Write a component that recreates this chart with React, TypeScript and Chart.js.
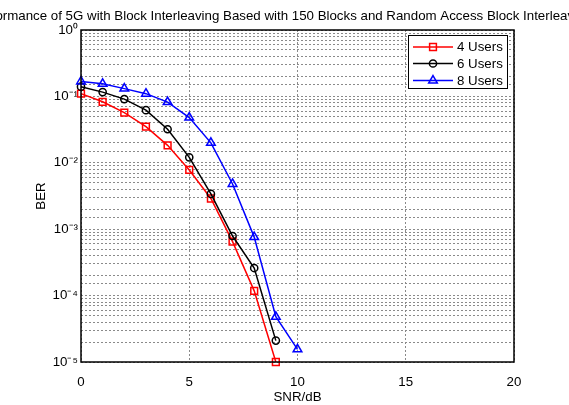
import React, { useEffect, useRef } from 'react';
import { Chart, registerables } from 'chart.js';

Chart.register(...registerables);

const TITLE = 'Performance of 5G with Block Interleaving Based with 150 Blocks and Random Access Block Interleaving';
const X_LABEL = 'SNR/dB';
const Y_LABEL = 'BER';

const SERIES_NAMES = ['4 Users', '6 Users', '8 Users'];
const SERIES_COLORS = ['#ff0000', '#000000', '#0000ff'];
const SERIES_MARKERS = ['rect', 'circle', 'triangle'];

const SNR_4 = [0, 1, 2, 3, 4, 5, 6, 7, 8, 9];
const BER_4 = [0.11, 0.083, 0.057, 0.035, 0.0183, 0.0078, 0.0029, 0.00065, 0.000118, 0.00001];

const SNR_6 = [0, 1, 2, 3, 4, 5, 6, 7, 8, 9];
const BER_6 = [0.14, 0.116, 0.091, 0.062, 0.032, 0.0121, 0.0034, 0.00079, 0.00026, 0.000021];

const SNR_8 = [0, 1, 2, 3, 4, 5, 6, 7, 8, 9, 10];
const BER_8 = [0.168, 0.155, 0.131, 0.11, 0.082, 0.048, 0.02, 0.0048, 0.00076, 0.000048, 0.0000155];

const X_MIN = 0;
const X_MAX = 20;
const X_STEP = 5;
const Y_MIN = 1e-5;
const Y_MAX = 1;

const FONT = '"Liberation Sans", Arial, Helvetica, sans-serif';
const FS = 13.3;

const SUP: Record<string, string> = {
  '0': '\u2070', '1': '\u00b9', '2': '\u00b2', '3': '\u00b3', '4': '\u2074',
  '5': '\u2075', '6': '\u2076', '7': '\u2077', '8': '\u2078', '9': '\u2079', '-': '\u207b',
};

function decadeLabel(v: number): string {
  const e = Math.round(Math.log10(v));
  if (Math.abs(v / Math.pow(10, e) - 1) > 1e-6) return '';
  return '10' + String(e).split('').map((c) => SUP[c] || c).join('');
}

function drawMarker(ctx: CanvasRenderingContext2D, style: string, x: number, y: number, r: number) {
  ctx.beginPath();
  if (style === 'rect') {
    const s = Math.SQRT1_2 * r;
    ctx.rect(x - s, y - s, 2 * s, 2 * s);
  } else if (style === 'circle') {
    ctx.arc(x, y, r, 0, Math.PI * 2);
  } else {
    const a = -Math.PI / 2;
    for (let i = 0; i < 3; i++) {
      const ang = a + (i * 2 * Math.PI) / 3;
      const px = x + r * Math.cos(ang);
      const py = y + r * Math.sin(ang);
      if (i === 0) ctx.moveTo(px, py);
      else ctx.lineTo(px, py);
    }
    ctx.closePath();
  }
  ctx.stroke();
}

const MARKER_R = [4.8, 3.6, 5];

const framePlugin = {
  id: 'matlabFrame',
  afterDraw(chart: any) {
    const ctx: CanvasRenderingContext2D = chart.ctx;
    const { left, top, right, bottom } = chart.chartArea;
    ctx.save();
    ctx.strokeStyle = '#000';
    ctx.lineWidth = 1.5;
    ctx.setLineDash([]);
    ctx.strokeRect(left, top, right - left, bottom - top);
    // title (overflows the canvas like the original)
    ctx.fillStyle = '#000';
    ctx.font = `${FS}px ${FONT}`;
    ctx.textAlign = 'left';
    ctx.textBaseline = 'alphabetic';
    ctx.fillText(TITLE, -29, 20);
    // legend
    const lx = 408, ly = 35, lw = 99, lh = 53;
    ctx.fillStyle = '#fff';
    ctx.fillRect(lx, ly, lw, lh);
    ctx.strokeStyle = '#000';
    ctx.lineWidth = 1;
    ctx.strokeRect(lx + 0.5, ly + 0.5, lw, lh);
    const rows = [47, 63.5, 80.5];
    chart.data.datasets.forEach((ds: any, i: number) => {
      const y = rows[i];
      ctx.strokeStyle = ds.borderColor;
      ctx.lineWidth = 1.5;
      ctx.beginPath();
      ctx.moveTo(413, y);
      ctx.lineTo(453, y);
      ctx.stroke();
      drawMarker(ctx, ds.pointStyle, 433, y, MARKER_R[i]);
      ctx.fillStyle = '#000';
      ctx.textAlign = 'left';
      ctx.textBaseline = 'middle';
      ctx.font = `${FS}px ${FONT}`;
      ctx.fillText(ds.label, 457, y + 0.5);
    });
    ctx.restore();
  },
};

export default function App() {
  const ref = useRef<HTMLCanvasElement | null>(null);

  useEffect(() => {
    if (!ref.current) return;
    const series = [
      { x: SNR_4, y: BER_4 },
      { x: SNR_6, y: BER_6 },
      { x: SNR_8, y: BER_8 },
    ];
    const datasets = series.map((s, i) => ({
      label: SERIES_NAMES[i],
      data: s.x.map((x, j) => ({ x, y: s.y[j] })),
      borderColor: SERIES_COLORS[i],
      backgroundColor: 'rgba(0,0,0,0)',
      borderWidth: 1.5,
      pointStyle: SERIES_MARKERS[i],
      pointRadius: MARKER_R[i],
      pointBorderWidth: 1.5,
      pointBorderColor: SERIES_COLORS[i],
      pointBackgroundColor: 'rgba(0,0,0,0)',
      tension: 0,
      fill: false,
      clip: false as any,
      order: 2 - i,
    }));

    const chart = new Chart(ref.current, {
      type: 'line',
      data: { datasets },
      options: {
        responsive: false,
        animation: false,
        layout: { padding: { top: 30, right: 55, bottom: 0, left: 0 } },
        plugins: {
          legend: { display: false },
          title: { display: false },
          tooltip: { enabled: false },
        },
        scales: {
          x: {
            type: 'linear',
            min: X_MIN,
            max: X_MAX,
            afterFit: (s: any) => { s.height = 43; },
            ticks: {
              stepSize: X_STEP,
              color: '#000',
              padding: 12,
              maxRotation: 0,
              font: { family: FONT, size: FS },
            },
            grid: { color: '#8a8a8a', lineWidth: 1, drawTicks: false },
            border: { display: false, dash: [2, 2] },
            title: {
              display: true,
              text: X_LABEL,
              color: '#000',
              font: { family: FONT, size: FS },
              padding: { top: 0, bottom: 0 },
            },
          },
          y: {
            type: 'logarithmic',
            min: Y_MIN,
            max: Y_MAX,
            afterFit: (s: any) => { s.width = 81; },
            ticks: {
              autoSkip: false,
              color: '#000',
              padding: 3,
              font: { family: FONT, size: FS },
              callback: (v: any) => decadeLabel(Number(v)),
            },
            grid: { color: '#8a8a8a', lineWidth: 1, drawTicks: false },
            border: { display: false, dash: [2, 2] },
            title: {
              display: true,
              text: Y_LABEL,
              color: '#000',
              font: { family: FONT, size: FS },
              padding: { top: 33, bottom: 0 },
            },
          },
        },
      },
      plugins: [framePlugin],
    });
    return () => chart.destroy();
  }, []);

  return (
    <div style={{ position: 'absolute', left: 0, top: 0, width: 569, height: 405, background: '#fff' }}>
      <canvas ref={ref} width={569} height={405} style={{ display: 'block' }} />
    </div>
  );
}
